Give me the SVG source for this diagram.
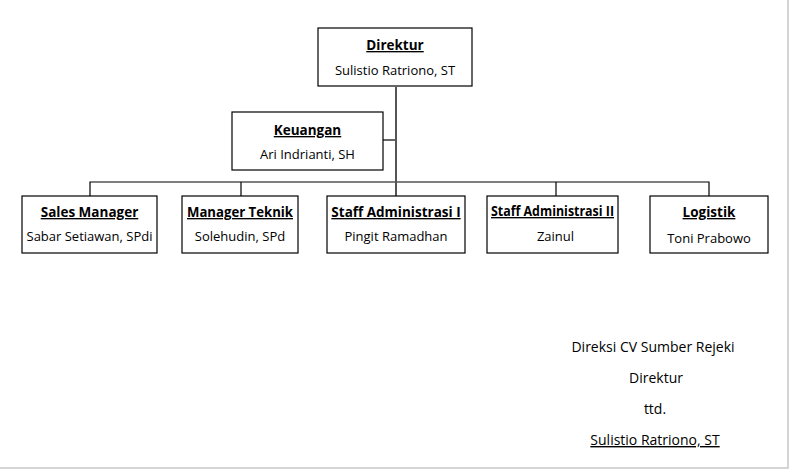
<svg xmlns="http://www.w3.org/2000/svg" width="790" height="470" viewBox="0 0 790 470">
<style>
.box{fill:#fff;stroke:#000;stroke-width:1.2}
.t{font-family:"Open Sans","Liberation Sans",sans-serif;font-size:13px;fill:#000;text-anchor:middle}
.b{font-weight:bold;text-decoration:underline;font-size:13.5px}
.s{font-size:14px}
.ln{stroke:#000;stroke-width:1.2;fill:none}
.main{stroke:#555;stroke-width:2;fill:none}
</style>
<rect x="0" y="0" width="790" height="470" fill="#fff"/>
<path d="M788 0V468H0" stroke="#c8c8c8" stroke-width="1.5" fill="none"/>
<g id="connectors">
<path class="ln" d="M90 196V182H709V196"/>
<path class="ln" d="M241 182V196"/>
<path class="ln" d="M556 182V196"/>
<path class="ln" d="M383 140H396"/>
<path class="main" d="M396 87V196"/>
</g>
<g id="direktur">
<rect class="box" x="318" y="28" width="154" height="58"/>
<text class="t b" x="395" y="50">Direktur</text>
<text class="t" x="395" y="75">Sulistio Ratriono, ST</text>
</g>
<g id="keuangan">
<rect class="box" x="232" y="112" width="151" height="58"/>
<text class="t b" x="307.5" y="135">Keuangan</text>
<text class="t" x="307.5" y="159">Ari Indrianti, SH</text>
</g>
<g id="sales">
<rect class="box" x="22" y="196" width="135" height="57"/>
<text class="t b" x="89.5" y="217">Sales Manager</text>
<text class="t" x="89.5" y="241">Sabar Setiawan, SPdi</text>
</g>
<g id="teknik">
<rect class="box" x="182" y="196" width="116" height="57"/>
<text class="t b" x="240" y="217" textLength="106" lengthAdjust="spacingAndGlyphs">Manager Teknik</text>
<text class="t" x="240" y="241">Solehudin, SPd</text>
</g>
<g id="admin1">
<rect class="box" x="327" y="196" width="138" height="57"/>
<text class="t b" x="396" y="217">Staff Administrasi I</text>
<text class="t" x="396" y="241">Pingit Ramadhan</text>
</g>
<g id="admin2">
<rect class="box" x="487" y="196" width="131" height="57"/>
<text class="t b" x="552.5" y="216" textLength="123" lengthAdjust="spacingAndGlyphs">Staff Administrasi II</text>
<text class="t" x="555.5" y="241">Zainul</text>
</g>
<g id="logistik">
<rect class="box" x="650" y="196" width="118" height="57"/>
<text class="t b" x="709" y="217">Logistik</text>
<text class="t" x="709" y="243">Toni Prabowo</text>
</g>
<g id="signature">
<text class="t s" x="653" y="352">Direksi CV Sumber Rejeki</text>
<text class="t s" x="656" y="383">Direktur</text>
<text class="t s" x="655" y="414">ttd.</text>
<text class="t s" x="655" y="445" text-decoration="underline">Sulistio Ratriono, ST</text>
</g>
</svg>
